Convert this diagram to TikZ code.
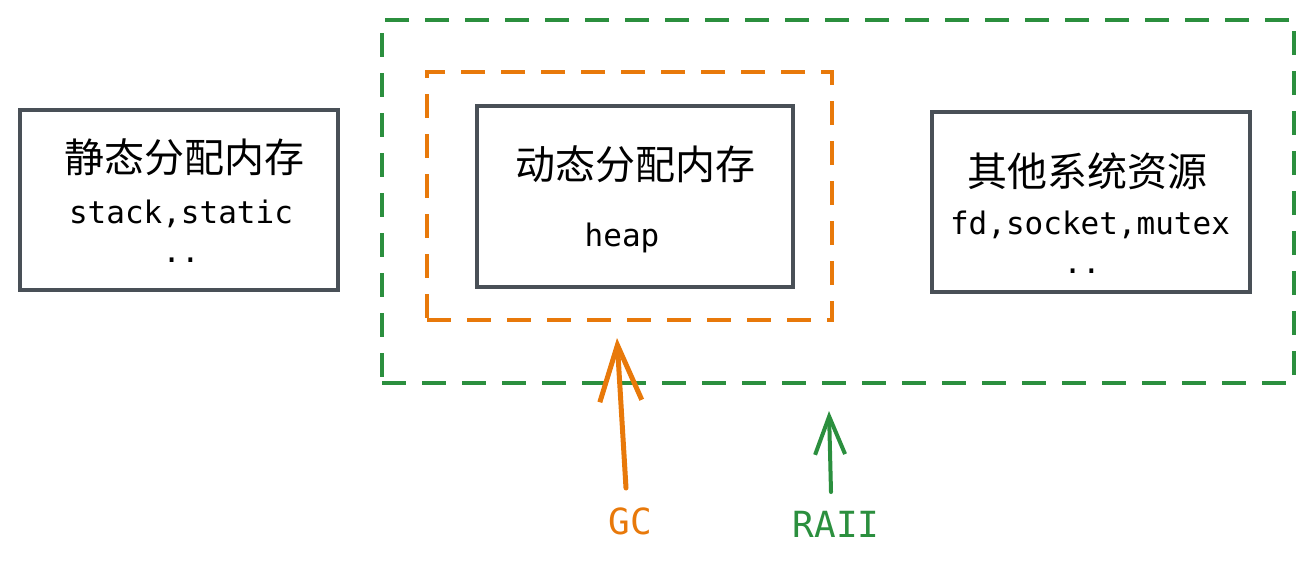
\documentclass[tikz,border=0pt]{standalone}
\usepackage{fontspec}
\newfontfamily\cjk{Noto Sans CJK SC}
\newfontfamily\mono{DejaVu Sans Mono}
\usetikzlibrary{arrows.meta}
\definecolor{boxgray}{HTML}{495057}
\definecolor{gcorange}{HTML}{E8790A}
\definecolor{raiigreen}{HTML}{2B8F3E}
\tikzset{
  membox/.style={draw=boxgray, line width=4.5pt, rectangle, inner sep=0pt, fill=white},
  greenzone/.style={draw=raiigreen, line width=4pt, dash pattern=on 24pt off 16pt, rectangle, inner sep=0pt},
  orangezone/.style={draw=gcorange, line width=4pt, dash pattern=on 24pt off 16pt, rectangle, inner sep=0pt},
  cjktext/.style={font=\cjk\fontsize{40}{46}\selectfont, text=black, inner sep=0pt},
  monotext/.style={font=\mono\fontsize{31}{36}\selectfont, text=black, inner sep=0pt},
  gclabel/.style={font=\mono\fontsize{36}{42}\selectfont, text=gcorange, inner sep=0pt},
  raiilabel/.style={font=\mono\fontsize{36}{42}\selectfont, text=raiigreen, inner sep=0pt},
}
\begin{document}
\begin{tikzpicture}[x=1pt, y=-1pt]
\useasboundingbox (0,0) rectangle (1311,566);
% containers
\node[greenzone, minimum width=912pt, minimum height=363pt] (green) at (838,201.5) {};
\node[orangezone, minimum width=405pt, minimum height=248pt] (orange) at (629.5,196) {};
% boxes
\node[membox, minimum width=318pt, minimum height=180pt] (static) at (179,200) {};
\node[membox, minimum width=316pt, minimum height=181pt] (dynamic) at (635,196.5) {};
\node[membox, minimum width=318pt, minimum height=180pt] (other) at (1091,202) {};
% texts
\node[cjktext] (t1) at (184,157) {静态分配内存};
\node[monotext] (s1) at (181,214) {stack,static};
\node[monotext] (d1) at (181,260) {..};
\node[cjktext] (t2) at (635,164) {动态分配内存};
\node[monotext] (s2) at (622,238) {heap};
\node[cjktext] (t3) at (1087,171) {其他系统资源};
\node[monotext] (s3) at (1090,225) {fd,socket,mutex};
\node[monotext] (d3) at (1082,271) {..};
% labels
\node[gclabel] (gc) at (630,521) {GC};
\node[raiilabel] (raii) at (836,524) {RAII};
\coordinate (gcstart) at (626,488);
\coordinate (gctip) at (617,338);
\coordinate (raiistart) at (831,492);
\coordinate (raiitip) at (829,411);
\draw[gcorange, line width=5pt, line cap=round, -{Straight Barb[length=56pt, width=42pt, line width=5pt]}] (gcstart) -- (gctip);
\draw[raiigreen, line width=4pt, line cap=round, -{Straight Barb[length=38pt, width=30pt, line width=4pt]}] (raiistart) -- (raiitip);
\end{tikzpicture}
\end{document}
